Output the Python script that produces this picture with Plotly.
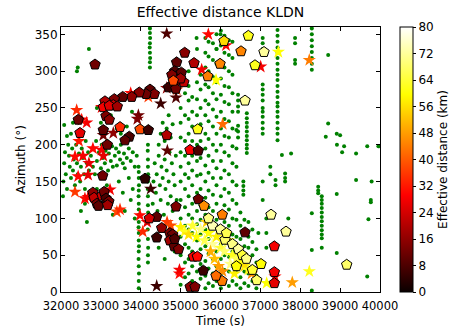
import plotly.graph_objects as go

# ---- green detections (time s, azimuth deg) ----
green_time = [
    32050, 32060, 32080, 32100, 32120, 32150, 32180, 32200, 32220, 32250, 32280, 32300, 32320, 32350,
    32380, 32400, 32420, 32450, 32480, 32500, 32520, 32550, 32580, 32600, 32620, 32650, 32680, 32700,
    32400, 32420, 32700, 32080, 32250, 32300, 32600, 32500, 32650, 32150,
    32750, 32800, 32820, 32850, 32880, 32900, 32950, 33000, 33020, 33050, 33100, 33120, 33150, 33180,
    33200, 33250, 33280, 33300, 33350, 33380, 33400, 33450, 33480, 33500, 33550, 33580, 33600, 33650,
    33700, 33750, 33800, 33850, 33900,
    32900, 33000, 33150, 33300, 33450, 33550, 33600, 33700, 33750, 33800, 33850,
    32900, 33000, 33250, 33500, 33650, 33780, 33400,
    33950, 33950, 33955, 33950, 33945, 33950, 33955, 33950, 33950, 33945, 33950, 33955, 33950, 33950,
    33945, 33950, 33955, 33950, 33950, 33945,
    34180, 34180, 34185, 34180, 34175, 34180, 34185, 34180, 34180, 34175, 34180, 34185, 34180, 34180,
    34175, 34180,
    34230, 34230, 34235, 34230, 34225, 34230, 34235, 34230, 34230,
    34300, 34320, 34350, 34380, 34400, 34420, 34450, 34480, 34500, 34520, 34550, 34580, 34600, 34620,
    34650, 34680, 34700, 34720, 34750, 34780, 34800, 34820, 34850, 34880, 34900,
    34450, 34500, 34550, 34600, 34650, 34700, 34750, 34800,
    34450, 34500, 34600, 34650, 34750, 34850,
    35000, 35000, 35000, 35000, 35000, 35000, 35000, 35000, 35000, 35000, 35000, 35000,
    35110, 35110, 35110, 35110, 35110, 35110, 35110, 35110, 35110, 35110, 35110,
    35200, 35200, 35200, 35200, 35200, 35200, 35200, 35200, 35200, 35200, 35200, 35200, 35200, 35200, 35200,
    35290, 35290, 35290, 35290, 35290, 35290, 35290, 35290, 35290, 35290, 35290, 35290, 35290,
    35410, 35410, 35410, 35410, 35410, 35410, 35410, 35410, 35410, 35410, 35410, 35410, 35410, 35410, 35410, 35410,
    35500, 35500, 35500, 35500, 35500, 35500, 35500, 35500, 35500, 35500, 35500, 35500, 35500, 35500,
    35620, 35620, 35620, 35620, 35620, 35620, 35620, 35620, 35620, 35620, 35620, 35620, 35620, 35620, 35620, 35620, 35620,
    35700, 35700, 35700, 35700, 35700, 35700, 35700, 35700, 35700, 35700, 35700, 35700, 35700, 35700, 35700,
    35810, 35810, 35810, 35810, 35810, 35810, 35810, 35810, 35810, 35810, 35810, 35810, 35810, 35810, 35810, 35810,
    35900, 35900, 35900, 35900, 35900, 35900, 35900, 35900, 35900, 35900, 35900, 35900, 35900, 35900, 35900, 35900,
    36010, 36010, 36010, 36010, 36010, 36010, 36010, 36010, 36010, 36010, 36010, 36010, 36010, 36010, 36010, 36010, 36010,
    36100, 36100, 36100, 36100, 36100, 36100, 36100, 36100, 36100, 36100, 36100, 36100, 36100, 36100, 36100, 36100,
    36210, 36210, 36210, 36210, 36210, 36210, 36210, 36210, 36210, 36210, 36210, 36210, 36210, 36210, 36210, 36210,
    36300, 36300, 36300, 36300, 36300, 36300, 36300, 36300, 36300, 36300, 36300, 36300, 36300, 36300, 36300,
    36400, 36400, 36400, 36400, 36400, 36400, 36400, 36400, 36400, 36400,
    36500, 36500, 36500, 36500, 36500, 36500, 36500,
    36600, 36600, 36600, 36600, 36600, 36600,
    36700, 36700, 36700, 36700, 36700, 36700,
    36800, 36800, 36800, 36800, 36800,
    36900, 36900, 36900, 36900,
    36573, 36573, 36573, 36573,
    36440, 36440, 36440, 36440, 36440, 36440, 36440,
    36660, 36660, 36660, 36660, 36660, 36660, 36660, 36660, 36660, 36660,
    37058, 37058, 37058, 37058, 37058, 37058, 37058, 37058, 37058, 37058, 37058, 37058, 37058, 37058, 37058,
    37150, 37150, 37150,
    37430, 37430, 37430, 37430, 37430, 37430, 37430, 37430, 37430, 37430, 37430, 37430, 37430, 37430, 37430,
    37430, 37430, 37430, 37430, 37430, 37430, 37380, 37380,
    37620, 37620, 37620,
    37870, 37870, 37870, 37870,
    38290, 38290, 38290, 38290, 38290, 38290, 38290, 38290, 38290, 38290, 38290,
    38540, 38540, 38540, 38540, 38540, 38540, 38540, 38540, 38540, 38540, 38540, 38540,
    38450, 38450, 38450,
    38700, 38700, 38640, 38915, 38915, 38915, 39000, 38920, 39100, 39050, 39680, 39680, 39960, 39400,
    39400, 39790, 39770, 39770, 39710, 37540, 37770, 37700, 37250, 37250, 36950,
    35400, 35700, 35900, 36000,
]
green_azimuth = [
    130, 150, 175, 190, 160, 140, 200, 185, 170, 155, 195, 165, 180, 145,
    200, 175, 160, 188, 150, 170, 195, 182, 160, 140, 205, 175, 190, 165,
    300, 305, 330, 227, 215, 230, 120, 110, 95, 212,
    185, 170, 195, 160, 205, 178, 190, 168, 200, 182, 175, 192, 205, 165,
    188, 178, 198, 170, 185, 195, 172, 190, 180, 200, 175, 188, 168, 182,
    195, 178, 190, 170, 185,
    140, 120, 145, 105, 150, 135, 110, 155, 125, 140, 100,
    250, 230, 240, 215, 225, 245, 222,
    5, 15, 25, 35, 45, 55, 62, 70, 80, 88, 95, 105, 112, 120,
    130, 138, 145, 155, 163, 170,
    40, 50, 60, 72, 85, 95, 108, 118, 130, 140, 150, 160, 170, 180,
    192, 200,
    305, 312, 318, 325, 332, 338, 345, 352, 358,
    120, 150, 175, 135, 160, 110, 185, 145, 125, 170, 155, 105, 180, 140,
    165, 120, 150, 190, 130, 175, 110, 160, 145, 185, 125,
    200, 215, 230, 205, 222, 240, 210, 228,
    60, 85, 45, 70, 90, 55,
    10, 30, 50, 75, 100, 125, 150, 170, 190, 210, 230, 250,
    20, 40, 65, 90, 115, 140, 160, 185, 205, 240, 270,
    5, 25, 45, 60, 85, 105, 130, 155, 175, 195, 215, 235, 260, 280, 300,
    15, 35, 55, 80, 100, 120, 145, 165, 185, 205, 225, 245, 265,
    8, 28, 48, 70, 92, 110, 135, 158, 178, 200, 220, 240, 262, 285, 310, 330,
    18, 38, 58, 78, 98, 118, 140, 160, 182, 205, 228, 250, 275, 295,
    5, 22, 42, 62, 85, 105, 128, 150, 172, 195, 215, 240, 260, 282, 305, 325, 345,
    12, 32, 52, 72, 95, 115, 138, 162, 185, 208, 232, 255, 278, 300, 320,
    8, 25, 45, 65, 88, 110, 132, 155, 178, 200, 225, 248, 270, 292, 315, 338,
    15, 35, 55, 75, 98, 120, 145, 168, 192, 215, 238, 262, 285, 310, 330, 350,
    5, 25, 45, 65, 85, 108, 130, 155, 178, 200, 222, 245, 268, 290, 312, 335, 355,
    12, 30, 50, 72, 95, 118, 140, 165, 190, 212, 235, 258, 280, 305, 325, 348,
    8, 28, 48, 68, 90, 112, 135, 160, 185, 210, 232, 255, 278, 300, 322, 342,
    15, 35, 55, 78, 100, 125, 150, 175, 198, 222, 245, 270, 295, 318, 340,
    10, 30, 52, 75, 98, 120, 145, 170, 195, 220,
    5, 20, 38, 55, 72, 90, 108,
    12, 28, 45, 62, 80, 98,
    8, 25, 42, 60, 75, 95,
    15, 32, 50, 68, 85,
    5, 22, 40, 58,
    132, 138, 144, 150,
    245, 252, 260, 268, 210, 218, 226,
    189, 195, 200, 206, 212, 218, 224, 230, 236, 243,
    330, 338, 345, 260, 268, 275, 282, 215, 222, 230, 238, 245, 250, 125, 150,
    60, 80, 100,
    206, 215, 222, 230, 238, 245, 252, 257, 265, 272, 280, 288, 295, 302, 310,
    318, 325, 332, 340, 348, 356, 152, 145,
    150, 155, 161,
    338, 345, 310, 315,
    302, 310, 318, 326, 334, 342, 350, 358, 107, 2, 57,
    73, 78, 84, 90, 96, 102, 108, 114, 120, 125, 130, 60,
    134, 138, 143,
    322, 229, 211, 215, 133, 53, 213, 200, 198, 190, 198, 21, 198, 188,
    152, 150, 122, 125, 99, 186, 188, 100, 170, 160, 80,
    345, 340, 330, 350,
]

# ---- pentagon detections (time s, azimuth deg, effective distance km) ----
pent_time = [
    32853, 35102, 34900, 34850, 34950, 34780, 35020, 35080, 34870, 34700, 34880, 35000,
    35336, 35988, 35680, 36088, 34817,
    34232, 34340, 34132, 33964, 33773, 33547, 33337, 33103, 33061, 33312, 33211, 33412,
    33129, 33211, 32434, 32476, 33061, 33480, 33981, 34190, 33713, 33605, 34651, 33161,
    35236, 35444, 35428,
    36698, 36514, 37091, 36865, 36615,
    33045, 32800, 32830, 32900, 32940, 33030, 33080, 33130, 33200, 33170,
    34107, 34884, 35444, 35587, 36045, 34400, 34215, 34525, 34400, 34730, 34800, 34730,
    34840, 34950, 34850, 35320, 35420, 35570, 35240, 35360, 36040, 35888,
    37267, 36615, 37643, 37350, 37016, 39165, 37350, 37350, 36908, 36113,
    35800, 36000, 36150, 36300, 36450, 35700, 36550, 36650, 36400, 36800,
]
pent_azimuth = [
    309, 325, 312, 300, 295, 295, 298, 285, 285, 278, 276, 290,
    311, 310, 293, 341, 287,
    275, 269, 269, 271, 265, 265, 262, 259, 251, 254, 253, 252,
    239, 234, 234, 216, 220, 224, 221, 220, 211, 206, 213, 200,
    193, 192, 221,
    348, 327, 326, 308, 260,
    158, 135, 128, 120, 117, 131, 136, 127, 123, 118,
    154, 116, 126, 117, 105, 102, 100, 87, 74, 80, 78, 70,
    62, 58, 72, 48, 48, 29, 7, 7, 15, 22,
    105, 81, 82, 62, 38, 37, 27, 12, 16, 71,
    90, 85, 80, 65, 58, 100, 50, 45, 35, 30,
]
pent_distance = [
    12, 15, 10, 8, 12, 14, 10, 22, 15, 6, 12, 18,
    20, 45, 44, 55, 38,
    10, 14, 12, 15, 16, 10, 14, 20, 28, 22, 25, 18,
    14, 16, 12, 26, 10, 34, 38, 6, 8, 10, 20, 12,
    28, 8, 62,
    62, 45, 72, 62, 72,
    12, 16, 22, 14, 10, 24, 12, 8, 14, 18,
    4, 14, 12, 46, 44, 10, 24, 16, 6, 14, 12, 18,
    10, 14, 8, 28, 30, 6, 16, 14, 44, 42,
    72, 10, 72, 28, 60, 68, 28, 26, 68, 68,
    74, 72, 66, 70, 72, 70, 64, 70, 60, 64,
]

# ---- star detections (time s, azimuth deg, effective distance km) ----
star_time = [
    34651, 35695, 35528, 35888, 36138, 34651, 34902, 34884, 34500, 33940, 33914, 33748,
    34190, 32393, 33020, 32644, 32519, 36055, 33061, 33312, 34667, 33020, 32351, 33061,
    37450, 37008, 38227,
    32351, 32600, 32680, 33230, 33400, 33480, 32430, 32680, 34250, 34970, 34970, 34400,
    33980, 34160, 34050, 34660, 34750, 34820,
    38227, 37800, 37158, 37367, 36782,
    32450, 32550, 32700, 32800,
    35000, 35100, 35200, 35300, 35400, 35500, 35600, 35700, 35800, 35900, 36000, 36100,
    36200, 36300, 36400, 36500, 36600, 36700, 36250, 36350, 35750, 35850, 35950, 36050, 35650,
]
star_azimuth = [
    351, 350, 302, 288, 335, 277, 275, 264, 256, 240, 235, 270,
    265, 247, 251, 230, 234, 228, 213, 216, 192, 193, 184, 185,
    326, 306, 315,
    136, 127, 129, 139, 109, 112, 157, 159, 140, 25, 30, 8,
    104, 95, 82, 95, 90, 75,
    28, 13, 12, 21, 25,
    205, 185, 175, 195,
    88, 82, 78, 90, 75, 85, 70, 80, 65, 75, 60, 55,
    70, 50, 45, 40, 35, 30, 38, 25, 55, 45, 35, 28, 95,
]
star_distance = [
    8, 30, 28, 60, 28, 16, 36, 8, 6, 12, 14, 30,
    36, 34, 28, 28, 30, 42, 12, 16, 10, 28, 30, 26,
    60, 28, 44,
    36, 30, 28, 28, 38, 34, 30, 26, 6, 30, 28, 6,
    30, 26, 34, 36, 38, 32,
    62, 48, 60, 30, 46,
    32, 28, 26, 30,
    58, 62, 56, 64, 60, 70, 66, 60, 72, 58, 64, 68,
    60, 62, 66, 60, 56, 62, 70, 58, 50, 52, 48, 46, 54,
]

x_tick_values = [32000, 33000, 34000, 35000, 36000, 37000, 38000, 39000, 40000]
y_tick_values = [0, 50, 100, 150, 200, 250, 300, 350]
colorbar_ticks = [0, 8, 16, 24, 32, 40, 48, 56, 64, 72, 80]

hot = [
    [0.0, "rgb(10,0,0)"],
    [0.365, "rgb(255,0,0)"],
    [0.746, "rgb(255,255,0)"],
    [1.0, "rgb(255,255,255)"],
]

FONT = "DejaVu Sans"

fig = go.Figure()

fig.add_trace(go.Scatter(
    x=green_time, y=green_azimuth, mode="markers",
    marker=dict(color="#008000", size=4, line=dict(width=0)),
    showlegend=False, hoverinfo="skip",
))
fig.add_trace(go.Scatter(
    x=star_time, y=star_azimuth, mode="markers",
    marker=dict(symbol="star", size=10, color=star_distance, coloraxis="coloraxis",
                line=dict(width=0)),
    showlegend=False,
))
fig.add_trace(go.Scatter(
    x=pent_time, y=pent_azimuth, mode="markers",
    marker=dict(symbol="pentagon", size=11, color=pent_distance, coloraxis="coloraxis",
                line=dict(width=1, color="black")),
    showlegend=False,
))

fig.update_layout(
    width=451, height=328,
    margin=dict(l=61, r=71, t=27, b=36, autoexpand=False),
    paper_bgcolor="white", plot_bgcolor="white",
    font=dict(family=FONT, size=12, color="black"),
    title=dict(text="Effective distance KLDN", x=(61 + 380) / 2 / 451, xanchor="center",
               y=1 - 12 / 328, yanchor="middle", font=dict(size=14, family=FONT)),
    coloraxis=dict(
        colorscale=hot, cmin=0, cmax=80,
        colorbar=dict(
            x=(400 - 61) / 319, xanchor="left", xpad=0, ypad=0,
            y=0.5, yanchor="middle", len=1, lenmode="fraction",
            thickness=13, outlinewidth=1, outlinecolor="black",
            tickvals=colorbar_ticks,
            ticks="outside", ticklen=3, tickcolor="black",
            tickfont=dict(size=12, family=FONT),
            title=dict(text="Effective distance (km)", side="right",
                       font=dict(size=12, family=FONT)),
        ),
    ),
    xaxis=dict(
        range=[32000, 40000], tickvals=x_tick_values,
        ticktext=[str(v) for v in x_tick_values], tickangle=0, automargin=False,
        showline=True, linecolor="black", linewidth=1, mirror="ticks",
        ticks="inside", ticklen=4, tickcolor="black", showgrid=False, zeroline=False,
        ticklabelstandoff=3,
        title=dict(text="Time (s)", standoff=4, font=dict(size=12)),
        tickfont=dict(size=11.5),
    ),
    yaxis=dict(
        range=[0, 360], tickvals=y_tick_values, automargin=False,
        showline=True, linecolor="black", linewidth=1, mirror="ticks",
        ticks="inside", ticklen=4, tickcolor="black", showgrid=False, zeroline=False,
        title=dict(text="Azimuth (°)", standoff=6, font=dict(size=12)),
        tickfont=dict(size=12),
    ),
)

fig.write_html("out.html")
